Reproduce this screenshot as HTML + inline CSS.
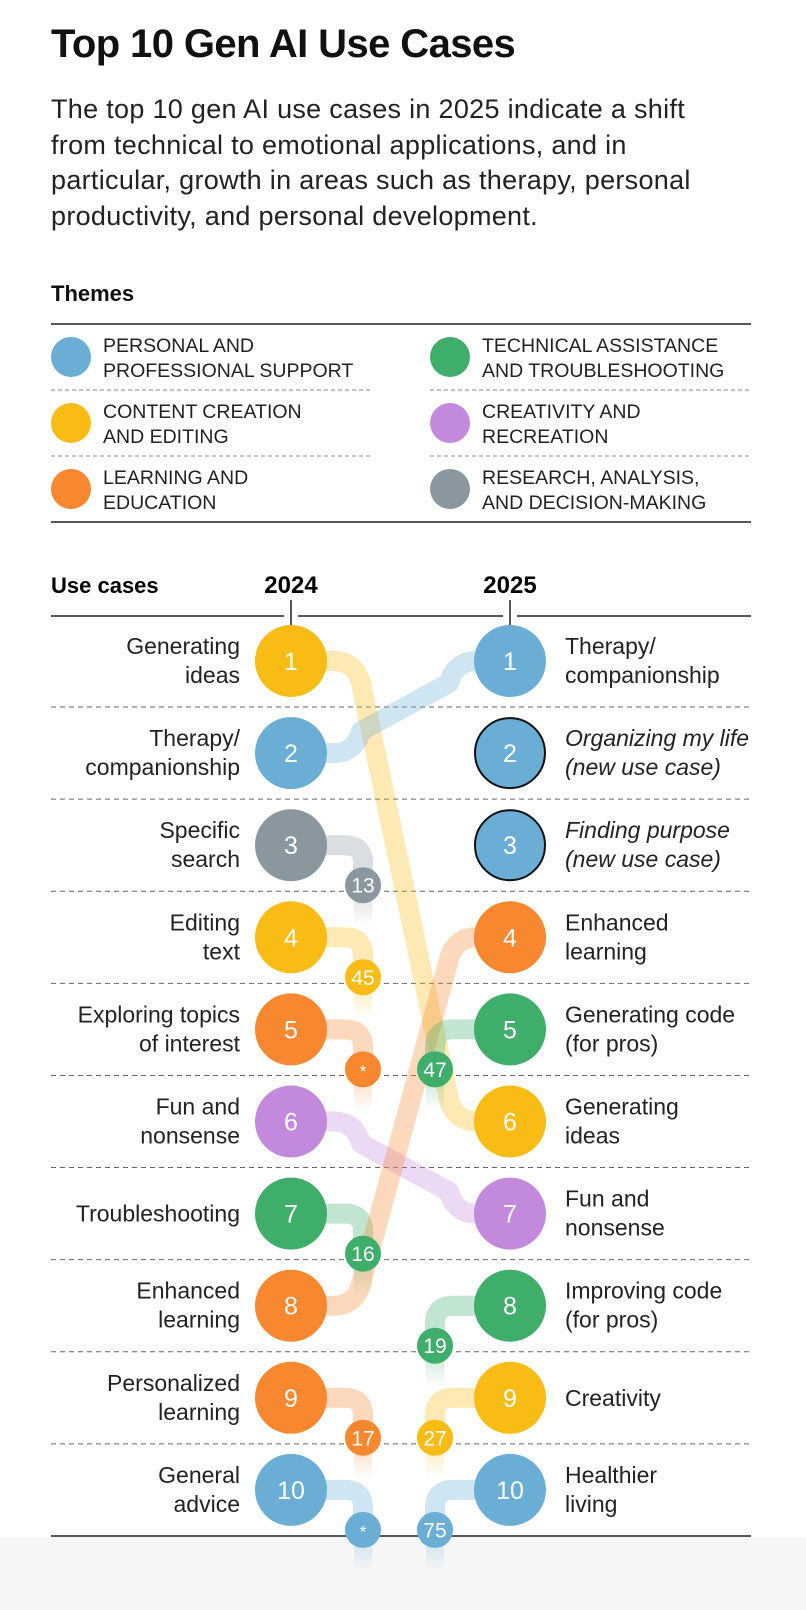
<!DOCTYPE html>
<html><head><meta charset="utf-8">
<style>
body{margin:0;background:#fff;width:806px;height:1610px;overflow:hidden;font-family:"Liberation Sans",sans-serif;color:#111}
#title{position:absolute;left:51px;top:22px;font-size:40px;font-weight:bold;letter-spacing:-0.6px;margin:0}
#sub{position:absolute;left:51px;top:92px;width:740px;font-size:27px;letter-spacing:0.3px;line-height:35.5px;color:#222;margin:0;white-space:nowrap}
svg{position:absolute;left:0;top:0}
.n{font-family:"Liberation Sans Narrow","Liberation Sans",sans-serif}
</style></head><body>
<h1 id="title">Top 10 Gen AI Use Cases</h1>
<p id="sub">The top 10 gen AI use cases in 2025 indicate a shift<br>from technical to emotional applications, and in<br>particular, growth in areas such as therapy, personal<br>productivity, and personal development.</p>
<svg id="chart" width="806" height="1610"></svg>
<script>
const themeNames=["PERSONAL AND|PROFESSIONAL SUPPORT","CONTENT CREATION|AND EDITING","LEARNING AND|EDUCATION","TECHNICAL ASSISTANCE|AND TROUBLESHOOTING","CREATIVITY AND|RECREATION","RESEARCH, ANALYSIS,|AND DECISION-MAKING"];
const themeColors=["#6aaed6","#f9bc15","#f7882f","#3fae6a","#c389dd","#8b979f"];
const left2024=["Generating|ideas","Therapy/|companionship","Specific|search","Editing|text","Exploring topics|of interest","Fun and|nonsense","Troubleshooting","Enhanced|learning","Personalized|learning","General|advice"];
const left2024Theme=[1,0,5,1,2,4,3,2,2,0];
const left2025Rank=["6","1","13","45","*","7","16","4","17","*"];
const right2025=["Therapy/|companionship","Organizing my life|(new use case)","Finding purpose|(new use case)","Enhanced|learning","Generating code|(for pros)","Generating|ideas","Fun and|nonsense","Improving code|(for pros)","Creativity","Healthier|living"];
const right2025Theme=[0,0,0,2,3,1,4,3,1,0];
const right2024Rank=["2","new","new","8","47","1","6","19","27","75"];

const svg=document.getElementById('chart');const NS="http://www.w3.org/2000/svg";
function mk(t,a,p){const e=document.createElementNS(NS,t);for(const k in a)e.setAttribute(k,a[k]);(p||svg).appendChild(e);return e;}
const rowY=r=>661+(r-1)*92.1;
const XL=291,XR=510,XSL=363,XSR=435;
const defs=mk('defs',{});
themeColors.forEach((c,i)=>{
 const gd=mk('linearGradient',{id:'gd'+i,x1:0,y1:0,x2:0,y2:1},defs);
 mk('stop',{offset:0,'stop-color':c,'stop-opacity':0.35},gd);mk('stop',{offset:1,'stop-color':c,'stop-opacity':0},gd);
});
let t=mk('text',{x:51,y:301,'font-size':22,'font-weight':'bold',fill:'#111'});t.textContent='Themes';

mk('line',{x1:51,x2:751,y1:324,y2:324,stroke:'#222','stroke-width':1.5});
mk('line',{x1:51,x2:751,y1:522,y2:522,stroke:'#222','stroke-width':1.5});
[390,456].forEach(y=>{mk('line',{x1:51,x2:372,y1:y,y2:y,stroke:'#888','stroke-dasharray':'4 3'});mk('line',{x1:430,x2:751,y1:y,y2:y,stroke:'#888','stroke-dasharray':'4 3'});});
themeNames.forEach((n,i)=>{
 const col=i<3?0:1,row=i%3,x=col?450:71,y=357+row*66;
 const g=mk('g',{});
 
 mk('circle',{cx:x,cy:y,r:20,fill:themeColors[i]},g);
 n.split('|').forEach((s,j)=>{const tx=mk('text',{x:x+32,y:y-5+j*25,'font-size':19.5,fill:'#222',class:'n'},g);tx.textContent=s;});
});
t=mk('text',{x:51,y:593,'font-size':22,'font-weight':'bold'});t.textContent='Use cases';

t=mk('text',{x:XL,y:593,'font-size':24,'font-weight':'bold','text-anchor':'middle'});t.textContent='2024';

t=mk('text',{x:XR,y:593,'font-size':24,'font-weight':'bold','text-anchor':'middle'});t.textContent='2025';

mk('line',{x1:51,x2:XL-7,y1:616,y2:616,stroke:'#222','stroke-width':1.5});
mk('line',{x1:XL+7,x2:XR-7,y1:616,y2:616,stroke:'#222','stroke-width':1.5});
mk('line',{x1:XR+7,x2:751,y1:616,y2:616,stroke:'#222','stroke-width':1.5});
mk('line',{x1:XL,x2:XL,y1:600,y2:628,stroke:'#222','stroke-width':1.5});
mk('line',{x1:XR,x2:XR,y1:600,y2:628,stroke:'#222','stroke-width':1.5});
for(let r=1;r<10;r++){const y=(rowY(r)+rowY(r+1))/2;mk('line',{x1:51,x2:751,y1:y,y2:y,stroke:'#666','stroke-dasharray':'5 4'});}
mk('rect',{x:0,y:1537,width:806,height:73,fill:'#f6f6f6'});
mk('line',{x1:51,x2:751,y1:1536,y2:1536,stroke:'#222','stroke-width':1.5});
const lines=mk('g',{}),dots=mk('g',{}),sm=mk('g',{});
function path(d,c,name){const p=mk('path',{d:d,fill:'none',stroke:c,'stroke-width':20,'stroke-opacity':0.32,'stroke-linecap':'butt','stroke-linejoin':'round'},lines);
 return p;}
function small(x,y,txt,i,name){const g=mk('g',{},sm);
 
 mk('circle',{cx:x,cy:y,r:18,fill:themeColors[i]},g);
 const tx=mk('text',{x:x,y:y+7.5,'font-size':txt=='*'?17:21,fill:'#fff','text-anchor':'middle',class:'n'},g);tx.textContent=txt;}
function moveD(ya,yb){const x1=355,x2=455,rr=22,s=yb>ya?1:-1;
 return `M${XL},${ya} H${x1-rr} Q${x1},${ya} ${x1+6},${ya+s*rr} L${x2-6},${yb-s*rr} Q${x2},${yb} ${x2+rr},${yb} H${XR}`;}
left2024.forEach((lab,i)=>{
 const y=rowY(i+1),th=left2024Theme[i],c=themeColors[th],rk=left2025Rank[i];
 const n=parseInt(rk);
 if(!isNaN(n)&&n<=10){ path(moveD(y,rowY(n)),c,'flow-line'); }
 else{
  const sy=y+40;
  path(`M${XL},${y} H${XSL-18} Q${XSL},${y} ${XSL},${y+18} V${sy}`,c,'dropout-line');
  const tl=mk('rect',{x:XSL-9,y:sy,width:18,height:42,fill:`url(#gd${th})`},lines);
  
  small(XSL,sy,rk,th,'rank-2025-badge');
 }
 const g=mk('g',{},dots);
 
 mk('circle',{cx:XL,cy:y,r:36,fill:c},g);
 let tx=mk('text',{x:XL,y:y+9,'font-size':25,fill:'#fff','text-anchor':'middle',class:'n'},g);tx.textContent=i+1;
 const parts=lab.split('|');
 parts.forEach((s,j)=>{const l=mk('text',{x:240,y:y+8+(parts.length==2?(j?14:-15):0),'font-size':23,fill:'#222','text-anchor':'end',class:'n'},g);l.textContent=s;});
});
right2025.forEach((lab,i)=>{
 const y=rowY(i+1),th=right2025Theme[i],c=themeColors[th],rk=right2024Rank[i];
 const n=parseInt(rk);
 if(!isNaN(n)&&n>10){
  const sy=y+40;
  path(`M${XR},${y} H${XSR+18} Q${XSR},${y} ${XSR},${y+18} V${sy}`,c,'newcomer-line');
  const tl=mk('rect',{x:XSR-9,y:sy,width:18,height:42,fill:`url(#gd${th})`},lines);
  
  small(XSR,sy,rk,th,'rank-2024-badge');
 }
 const g=mk('g',{},dots);
 
 const a={cx:XR,cy:y,r:36,fill:c};if(rk=='new'){a.stroke='#111';a['stroke-width']=2;a.r=35;}
 mk('circle',a,g);
 let tx=mk('text',{x:XR,y:y+9,'font-size':25,fill:'#fff','text-anchor':'middle',class:'n'},g);tx.textContent=i+1;
 const parts=lab.split('|');
 parts.forEach((s,j)=>{const l=mk('text',{x:565,y:y+8+(parts.length==2?(j?14:-15):0),'font-size':23,fill:'#222',class:'n','font-style':rk=='new'?'italic':'normal'},g);l.textContent=s;});
});
svg.appendChild(sm);
</script>
</body></html>
